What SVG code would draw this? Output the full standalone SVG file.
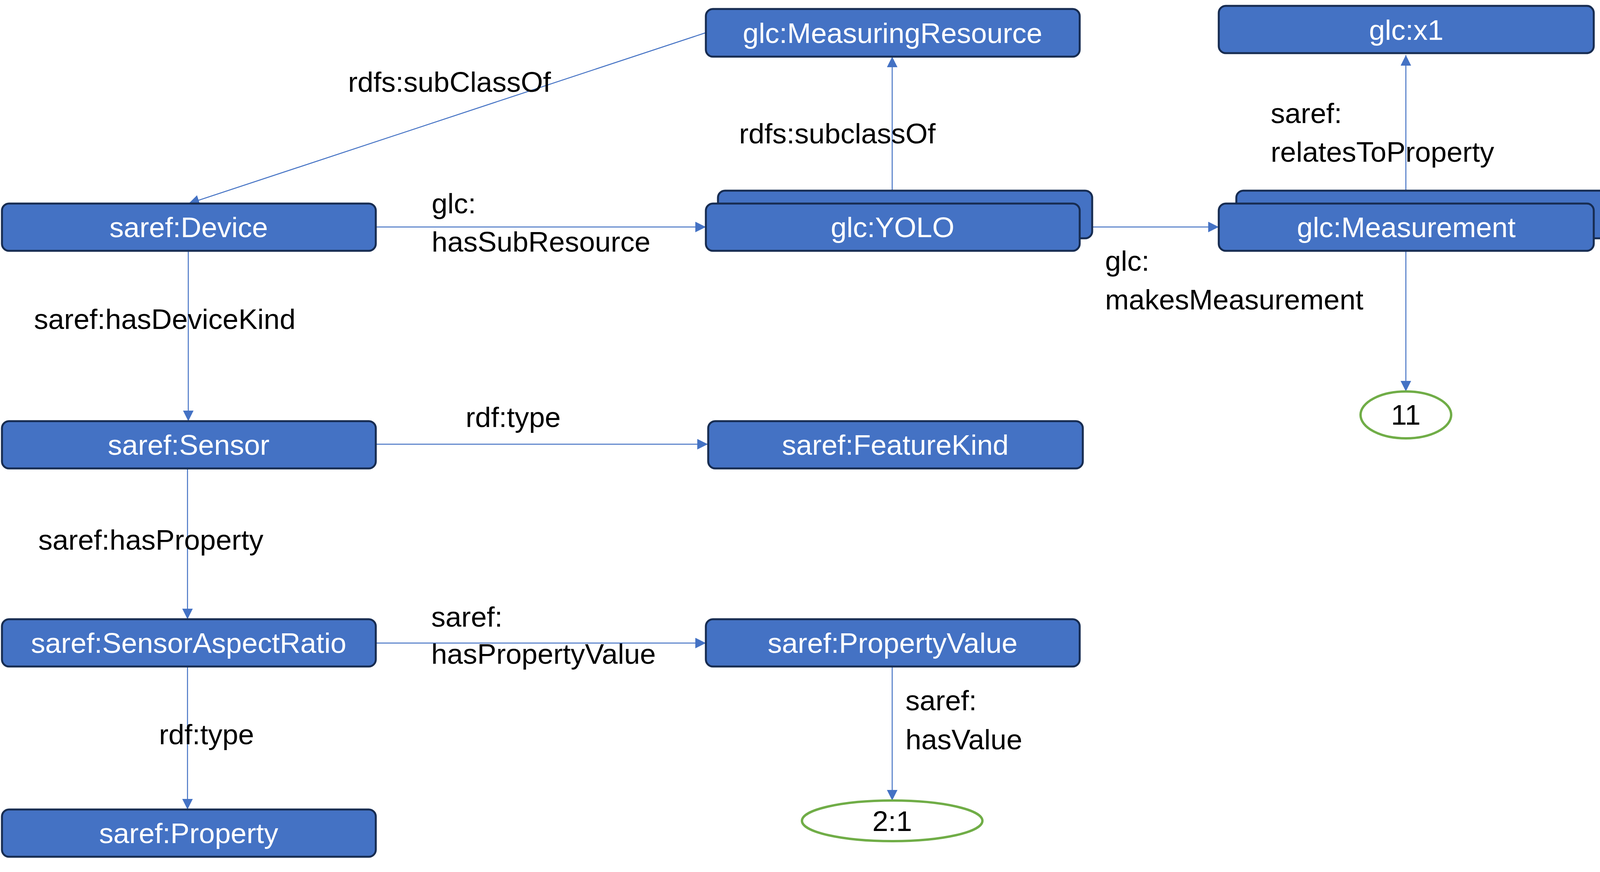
<svg xmlns="http://www.w3.org/2000/svg" width="4150" height="2232" viewBox="0 0 4150 2232">
<style>
.box{fill:#4472C4;stroke:#172C51;stroke-width:5}
.lbl{font-family:"Liberation Sans",Arial,sans-serif;font-size:73px;fill:#FFFFFF;text-anchor:middle}
.edge{font-family:"Liberation Sans",Arial,sans-serif;font-size:73px;fill:#000000}
.lit{fill:#FFFFFF;stroke:#70AD47;stroke-width:6}
.litt{font-family:"Liberation Sans",Arial,sans-serif;font-size:73px;fill:#000000;text-anchor:middle}
.con{fill:none;stroke:#4472C4;stroke-width:2.5}
</style>
<defs>
<marker id="arr" markerUnits="userSpaceOnUse" markerWidth="28" markerHeight="28" refX="27" refY="13.5" orient="auto">
<path d="M0,0 L27,13.5 L0,27 Z" fill="#4472C4"/>
</marker>
</defs>
<g id="connectors">
<line class="con" x1="1806" y1="84" x2="483" y2="521" marker-end="url(#arr)"/>
<line class="con" x1="962" y1="581" x2="1807" y2="581" marker-end="url(#arr)"/>
<line class="con" x1="2284" y1="488" x2="2284" y2="145" marker-end="url(#arr)"/>
<line class="con" x1="2764" y1="581" x2="3120" y2="581" marker-end="url(#arr)"/>
<line class="con" x1="3599" y1="488" x2="3599" y2="141" marker-end="url(#arr)"/>
<line class="con" x1="3599" y1="642" x2="3599" y2="1002" marker-end="url(#arr)"/>
<line class="con" x1="482" y1="642" x2="482" y2="1078" marker-end="url(#arr)"/>
<line class="con" x1="962" y1="1137" x2="1812" y2="1137" marker-end="url(#arr)"/>
<line class="con" x1="480" y1="1199" x2="480" y2="1585" marker-end="url(#arr)"/>
<line class="con" x1="962" y1="1646" x2="1807" y2="1646" marker-end="url(#arr)"/>
<line class="con" x1="2284" y1="1706" x2="2284" y2="2049" marker-end="url(#arr)"/>
<line class="con" x1="480" y1="1706" x2="480" y2="2072" marker-end="url(#arr)"/>
</g>
<g id="edge-labels">
<text class="edge" x="891" y="235">rdfs:subClassOf</text>
<text class="edge" x="1105" y="546">glc:<tspan x="1105" y="644">hasSubResource</tspan></text>
<text class="edge" x="87" y="842">saref:hasDeviceKind</text>
<text class="edge" x="1192" y="1093">rdf:type</text>
<text class="edge" x="1892" y="367">rdfs:subclassOf</text>
<text class="edge" x="3253" y="315">saref:<tspan x="3253" y="414">relatesToProperty</tspan></text>
<text class="edge" x="2829" y="693">glc:<tspan x="2829" y="792">makesMeasurement</tspan></text>
<text class="edge" x="98" y="1407">saref:hasProperty</text>
<text class="edge" x="1104" y="1604">saref:<tspan x="1104" y="1699">hasPropertyValue</tspan></text>
<text class="edge" x="2318" y="1818">saref:<tspan x="2318" y="1918">hasValue</tspan></text>
<text class="edge" x="407" y="1905">rdf:type</text>
</g>
<g id="n-measuringresource">
<rect class="box" x="1807" y="23" width="957" height="122" rx="18"/>
<text class="lbl" x="2285" y="110">glc:MeasuringResource</text>
</g>
<g id="n-x1">
<rect class="box" x="3120" y="15" width="960" height="121" rx="18"/>
<text class="lbl" x="3600" y="102">glc:x1</text>
</g>
<g id="n-device">
<rect class="box" x="5" y="521" width="957" height="121" rx="18"/>
<text class="lbl" x="483" y="607">saref:Device</text>
</g>
<g id="n-yolo">
<rect class="box" x="1838" y="488" width="958" height="122" rx="18"/>
<rect class="box" x="1807" y="521" width="957" height="121" rx="18"/>
<text class="lbl" x="2285" y="607">glc:YOLO</text>
</g>
<g id="n-measurement">
<rect class="box" x="3165" y="488" width="960" height="122" rx="18"/>
<rect class="box" x="3120" y="521" width="960" height="121" rx="18"/>
<text class="lbl" x="3600" y="607">glc:Measurement</text>
</g>
<g id="n-11">
<ellipse class="lit" cx="3599" cy="1062" rx="116" ry="60"/>
<text class="litt" x="3599" y="1087">11</text>
</g>
<g id="n-sensor">
<rect class="box" x="5" y="1078" width="957" height="121" rx="18"/>
<text class="lbl" x="483" y="1164">saref:Sensor</text>
</g>
<g id="n-featurekind">
<rect class="box" x="1813" y="1078" width="959" height="121" rx="18"/>
<text class="lbl" x="2292" y="1164">saref:FeatureKind</text>
</g>
<g id="n-sensoraspectratio">
<rect class="box" x="5" y="1585" width="957" height="121" rx="18"/>
<text class="lbl" x="483" y="1671">saref:SensorAspectRatio</text>
</g>
<g id="n-propertyvalue">
<rect class="box" x="1807" y="1585" width="957" height="121" rx="18"/>
<text class="lbl" x="2285" y="1671">saref:PropertyValue</text>
</g>
<g id="n-property">
<rect class="box" x="5" y="2072" width="957" height="121" rx="18"/>
<text class="lbl" x="483" y="2158">saref:Property</text>
</g>
<g id="n-2-1">
<ellipse class="lit" cx="2284" cy="2101" rx="231" ry="52"/>
<text class="litt" x="2284" y="2127">2:1</text>
</g>
</svg>
